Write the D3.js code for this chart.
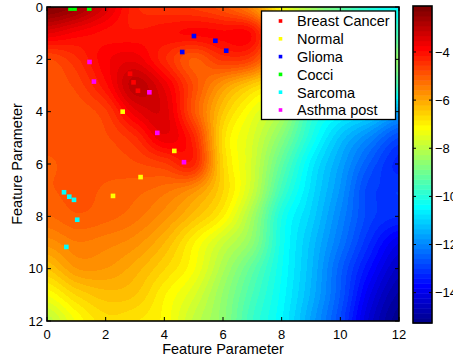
<!DOCTYPE html>
<html>
<head>
<meta charset="utf-8">
<script src="https://cdn.jsdelivr.net/npm/d3@7"></script>
<style>
  html, body { margin: 0; padding: 0; background: #ffffff; }
  svg { display: block; }
  text { font-family: "Liberation Sans", Arial, Helvetica, sans-serif; fill: #000; }
</style>
</head>
<body>
<svg id="chart" width="453" height="362"></svg>
<script>
// Grid coordinates of the sampled surface
const gridX = [0, 1, 2, 3, 4, 5, 6, 7, 8, 9, 10, 11, 12];
const gridY = [0, 1, 2, 3, 4, 5, 6, 7, 8, 9, 10, 11, 12];

// Surface values, one row per gridY entry, one column per gridX entry
const surfaceValues = [
  [-2.2, -2.6, -3.4, -4.3, -4.5, -4.6, -4.9, -5.6, -7.2, -8.3, -9.2, -10.0, -10.4],
  [-3.5, -3.8, -4.0, -4.1, -4.0, -3.9, -3.9, -4.0, -6.0, -7.6, -8.6, -9.2, -9.6],
  [-4.8, -4.4, -3.8, -3.6, -4.3, -5.0, -4.5, -4.7, -6.3, -7.5, -8.2, -8.6, -8.6],
  [-4.9, -4.7, -4.0, -3.0, -3.6, -4.8, -5.8, -6.5, -7.1, -7.9, -8.7, -9.3, -9.6],
  [-4.9, -4.9, -4.6, -3.6, -3.4, -4.9, -6.4, -7.3, -8.1, -9.6, -10.3, -10.8, -11.5],
  [-4.9, -4.9, -4.8, -4.4, -3.6, -4.3, -6.7, -7.6, -8.7, -10.1, -11.2, -12.0, -12.8],
  [-5.0, -4.9, -4.9, -4.8, -4.6, -4.3, -6.6, -7.7, -9.2, -10.6, -11.6, -12.6, -13.3],
  [-5.0, -4.9, -5.0, -5.1, -5.3, -5.7, -6.6, -7.8, -9.6, -10.8, -11.8, -12.9, -13.0],
  [-5.2, -5.0, -5.1, -5.3, -5.7, -6.3, -7.0, -8.3, -10.1, -11.0, -12.0, -12.9, -13.2],
  [-5.7, -5.4, -5.5, -5.7, -6.2, -7.0, -7.8, -8.6, -10.2, -11.2, -12.2, -13.2, -14.0],
  [-6.4, -5.8, -5.8, -6.1, -6.6, -7.2, -8.2, -9.2, -10.3, -11.3, -12.5, -13.6, -14.5],
  [-7.2, -6.6, -6.3, -6.4, -7.0, -7.6, -8.5, -9.5, -10.4, -11.4, -12.6, -14.0, -14.9],
  [-8.0, -7.2, -6.7, -6.8, -7.1, -7.9, -8.6, -9.7, -10.5, -11.6, -12.8, -14.3, -15.2]
];

// Sample groups
const groupNames = ["Breast Cancer", "Normal", "Glioma", "Cocci", "Sarcoma", "Asthma post"];
const groupColors = ["#ff0000", "#ffff00", "#0000ff", "#00ff00", "#00ffff", "#ff00ff"];

const breastCancerX = [2.83, 2.95, 3.1];
const breastCancerY = [2.55, 2.88, 3.2];
const normalX = [2.58, 4.34, 3.19, 2.25];
const normalY = [4.0, 5.5, 6.5, 7.22];
const gliomaX = [5.01, 5.74, 4.61, 6.11];
const gliomaY = [1.11, 1.29, 1.72, 1.67];
const cocciX = [0.8, 0.94, 1.44];
const cocciY = [0.06, 0.06, 0.06];
const sarcomaX = [0.58, 0.76, 0.92, 1.03, 0.66];
const sarcomaY = [7.08, 7.25, 7.37, 8.13, 9.17];
const asthmaX = [1.45, 1.6, 3.49, 3.76, 4.67];
const asthmaY = [2.1, 2.85, 3.26, 4.81, 5.93];

const groupXs = [breastCancerX, normalX, gliomaX, cocciX, sarcomaX, asthmaX];
const groupYs = [breastCancerY, normalY, gliomaY, cocciY, sarcomaY, asthmaY];

// Axis ticks and colour range
const xTicks = [0, 2, 4, 6, 8, 10, 12];
const yTicks = [0, 2, 4, 6, 8, 10, 12];
const colorTicks = [-14, -12, -10, -8, -6, -4];
const colorRange = [-15.26, -2.09];
const axisLabel = "Feature Parameter";

// ---------------------------------------------------------------
const svg = d3.select("#chart");
const plot = { left: 47, right: 399, top: 7, bottom: 321 };
const bar = { left: 413, right: 432, top: 6, bottom: 323 };

const x = d3.scaleLinear().domain([0, 12]).range([plot.left, plot.right]);
const y = d3.scaleLinear().domain([0, 12]).range([plot.top, plot.bottom]);
const cbar = d3.scaleLinear().domain(colorRange).range([bar.bottom, bar.top]);

// 64-entry jet colormap
const NCOL = 64;
function jetU(k) {
  if (k >= 1 && k <= 16) return k / 16;
  if (k >= 17 && k <= 31) return 1;
  if (k >= 32 && k <= 47) return (48 - k) / 16;
  return 0;
}
const jet = d3.range(1, NCOL + 1).map(i => {
  const r = i >= 25 ? jetU(i - 24) : 0;
  const g = (i >= 9 && i <= 55) ? jetU(i - 8) : 0;
  const b = i <= 39 ? jetU(i + 8) : 0;
  return [Math.round(r * 255), Math.round(g * 255), Math.round(b * 255)];
});
const colorIndex = d3.scaleQuantize().domain(colorRange).range(d3.range(NCOL));
function colorOf(v) {
  const c = Math.max(colorRange[0], Math.min(colorRange[1], v));
  return jet[colorIndex(c)];
}

// Smooth (Catmull-Rom) surface reconstruction between grid samples
function cr(p0, p1, p2, p3, t) {
  return 0.5 * ((2 * p1) + (-p0 + p2) * t + (2 * p0 - 5 * p1 + 4 * p2 - p3) * t * t +
    (-p0 + 3 * p1 - 3 * p2 + p3) * t * t * t);
}
const nx = gridX.length, ny = gridY.length;
const gx = d3.scaleLinear().domain(d3.extent(gridX)).range([0, nx - 1]);
const gy = d3.scaleLinear().domain(d3.extent(gridY)).range([0, ny - 1]);
function at(j, i) {
  j = Math.max(0, Math.min(ny - 1, j));
  i = Math.max(0, Math.min(nx - 1, i));
  return surfaceValues[j][i];
}
function surfaceAt(xv, yv) {
  const fx = gx(xv), fy = gy(yv);
  let i = Math.floor(fx), j = Math.floor(fy);
  if (i >= nx - 1) i = nx - 2;
  if (j >= ny - 1) j = ny - 2;
  const tx = fx - i, ty = fy - j;
  const rows = [];
  for (let m = -1; m <= 2; m++) {
    rows.push(cr(at(j + m, i - 1), at(j + m, i), at(j + m, i + 1), at(j + m, i + 2), tx));
  }
  return cr(rows[0], rows[1], rows[2], rows[3], ty);
}

// Raster of the surface
const W = plot.right - plot.left, H = plot.bottom - plot.top;
const canvas = document.createElement("canvas");
canvas.width = W; canvas.height = H;
const ctx = canvas.getContext("2d");
const img = ctx.createImageData(W, H);
for (let py = 0; py < H; py++) {
  const yv = y.invert(plot.top + py + 0.5);
  for (let px = 0; px < W; px++) {
    const xv = x.invert(plot.left + px + 0.5);
    const c = colorOf(surfaceAt(xv, yv));
    const o = (py * W + px) * 4;
    img.data[o] = c[0]; img.data[o + 1] = c[1]; img.data[o + 2] = c[2]; img.data[o + 3] = 255;
  }
}
ctx.putImageData(img, 0, 0);

svg.append("defs").append("clipPath").attr("id", "plotClip")
  .append("rect").attr("x", plot.left).attr("y", plot.top).attr("width", W).attr("height", H);

svg.append("image")
  .attr("x", plot.left).attr("y", plot.top)
  .attr("width", W).attr("height", H)
  .attr("preserveAspectRatio", "none")
  .attr("href", canvas.toDataURL());

// Sample markers
const markerSize = 4.6;
const points = svg.append("g").attr("clip-path", "url(#plotClip)");
groupNames.forEach((name, gi) => {
  const pts = groupXs[gi].map((xv, k) => ({ x: xv, y: groupYs[gi][k] }));
  points.selectAll(null).data(pts).enter().append("rect")
    .attr("x", d => x(d.x) - markerSize / 2)
    .attr("y", d => y(d.y) - markerSize / 2)
    .attr("width", markerSize).attr("height", markerSize)
    .attr("fill", groupColors[gi]);
});

// Axes box with inward ticks on all sides
const tickLen = 4;
const axes = svg.append("g").attr("stroke", "#000").attr("fill", "none");
axes.append("rect")
  .attr("x", plot.left).attr("y", plot.top).attr("width", W).attr("height", H)
  .attr("stroke-width", 1.6);
xTicks.forEach(t => {
  axes.append("line").attr("x1", x(t)).attr("x2", x(t)).attr("y1", plot.bottom).attr("y2", plot.bottom - tickLen).attr("stroke-width", 1);
  axes.append("line").attr("x1", x(t)).attr("x2", x(t)).attr("y1", plot.top).attr("y2", plot.top + tickLen).attr("stroke-width", 1);
});
yTicks.forEach(t => {
  axes.append("line").attr("y1", y(t)).attr("y2", y(t)).attr("x1", plot.left).attr("x2", plot.left + tickLen).attr("stroke-width", 1);
  axes.append("line").attr("y1", y(t)).attr("y2", y(t)).attr("x1", plot.right).attr("x2", plot.right - tickLen).attr("stroke-width", 1);
});

// Tick labels
svg.append("g").selectAll("text").data(xTicks).enter().append("text")
  .attr("x", d => x(d)).attr("y", 338.5)
  .attr("text-anchor", "middle").attr("font-size", 13)
  .text(d => d);
svg.append("g").selectAll("text").data(yTicks).enter().append("text")
  .attr("x", 43).attr("y", d => y(d) + 4.6)
  .attr("text-anchor", "end").attr("font-size", 13)
  .text(d => d);

// Axis titles
svg.append("text")
  .attr("x", (plot.left + plot.right) / 2).attr("y", 353.5)
  .attr("text-anchor", "middle").attr("font-size", 14.5)
  .text(axisLabel);
svg.append("text")
  .attr("transform", `translate(22,${(plot.top + plot.bottom) / 2}) rotate(-90)`)
  .attr("text-anchor", "middle").attr("font-size", 14.5)
  .text(axisLabel);

// Legend
const legend = svg.append("g");
legend.append("rect")
  .attr("x", 261.5).attr("y", 11).attr("width", 134).attr("height", 108.5)
  .attr("fill", "#fff").attr("stroke", "#000").attr("stroke-width", 1.3);
groupNames.forEach((name, gi) => {
  const cy = 21 + gi * 17.8;
  legend.append("rect")
    .attr("x", 280.5 - 1.8).attr("y", cy - 1.8).attr("width", 3.6).attr("height", 3.6)
    .attr("fill", groupColors[gi]);
  legend.append("text")
    .attr("x", 297).attr("y", cy + 5.3)
    .attr("font-size", 14.5)
    .text(name);
});

// Colour bar
const step = (colorRange[1] - colorRange[0]) / NCOL;
svg.append("g").selectAll("rect").data(d3.range(NCOL)).enter().append("rect")
  .attr("x", bar.left).attr("width", bar.right - bar.left)
  .attr("y", k => cbar(colorRange[0] + (k + 1) * step))
  .attr("height", k => cbar(colorRange[0] + k * step) - cbar(colorRange[0] + (k + 1) * step) + 0.5)
  .attr("fill", k => `rgb(${jet[k].join(",")})`);
svg.append("rect")
  .attr("x", bar.left).attr("y", bar.top)
  .attr("width", bar.right - bar.left).attr("height", bar.bottom - bar.top)
  .attr("fill", "none").attr("stroke", "#000").attr("stroke-width", 1.6);
const cb = svg.append("g");
colorTicks.forEach(t => {
  cb.append("line")
    .attr("x1", bar.right).attr("x2", bar.right - 3)
    .attr("y1", cbar(t)).attr("y2", cbar(t))
    .attr("stroke", "#000").attr("stroke-width", 1);
  cb.append("line")
    .attr("x1", bar.left).attr("x2", bar.left + 3)
    .attr("y1", cbar(t)).attr("y2", cbar(t))
    .attr("stroke", "#000").attr("stroke-width", 1);
  cb.append("text")
    .attr("x", 435).attr("y", cbar(t) + 4.6)
    .attr("font-size", 13)
    .text("\u2212" + Math.abs(t));
});
</script>
</body>
</html>
